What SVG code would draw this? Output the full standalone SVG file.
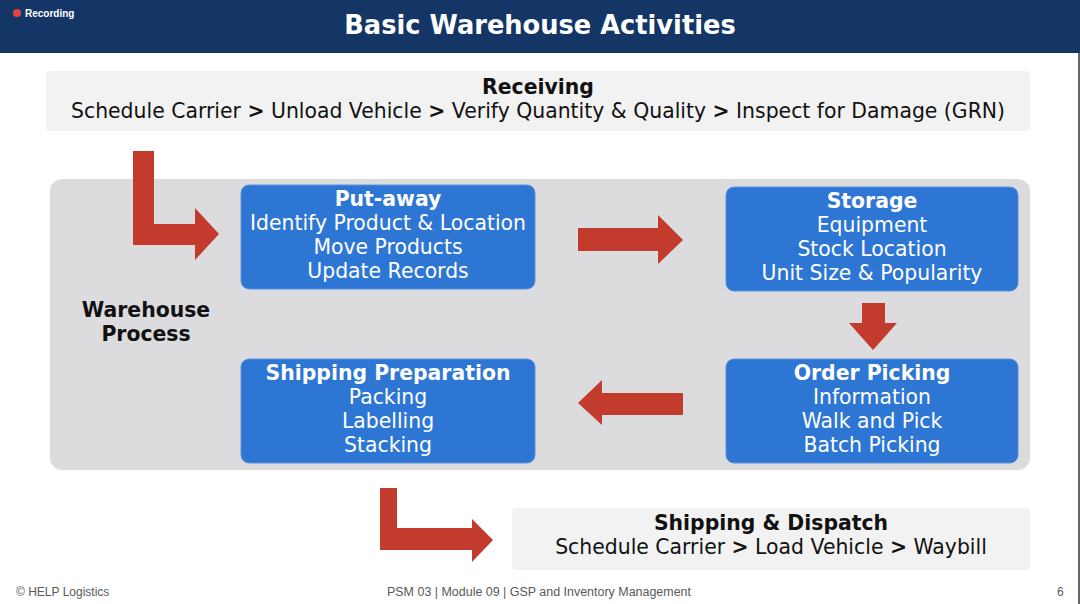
<svg xmlns="http://www.w3.org/2000/svg" width="1080" height="604" viewBox="0 0 1080 604">
<style>
.t{font-family:"DejaVu Sans","Verdana",sans-serif;font-size:20.4px;text-anchor:middle}
.b{font-weight:bold}
.w{fill:#ffffff}
.k{fill:#111111}
.node{fill:#2e76d4;stroke:#5b93dd;stroke-width:1}
.arr{fill:#c33b2d}
.foot{font-family:"Liberation Sans",Arial,sans-serif;font-size:12px;fill:#595959}
</style>
<rect x="0" y="0" width="1080" height="604" fill="#ffffff"/>
<rect x="0" y="0" width="1080" height="53" fill="#143666"/>
<circle cx="17" cy="13" r="4" fill="#e0453a"/>
<text x="25" y="16.5" font-family="Liberation Sans,Arial,sans-serif" font-size="10" font-weight="bold" fill="#ffffff">Recording</text>
<text x="540" y="34" class="t b w" style="font-size:25.7px">Basic Warehouse Activities</text>
<line x1="1079" y1="53" x2="1079" y2="604" stroke="#333333" stroke-width="1.5"/>

<g id="receiving">
<rect x="46" y="71" width="984" height="60" rx="4" fill="#f2f2f2"/>
<text x="538" y="94" class="t b k">Receiving</text>
<text x="538" y="118" class="t k">Schedule Carrier <tspan font-weight="bold">&gt;</tspan> Unload Vehicle <tspan font-weight="bold">&gt;</tspan> Verify Quantity &amp; Quality <tspan font-weight="bold">&gt;</tspan> Inspect for Damage (GRN)</text>
</g>

<g id="warehouse-process">
<rect x="50" y="179" width="980" height="291" rx="12" fill="#dcdbdd"/>
<text x="146" y="317" class="t b k">Warehouse</text>
<text x="146" y="341" class="t b k">Process</text>
</g>

<g id="put-away">
<rect x="241" y="185" width="294" height="104" rx="8" class="node"/>
<text x="388" y="206" class="t b w">Put-away</text>
<text x="388" y="230" class="t w">Identify Product &amp; Location</text>
<text x="388" y="254" class="t w">Move Products</text>
<text x="388" y="278" class="t w">Update Records</text>
</g>

<g id="storage">
<rect x="726" y="187" width="292" height="104" rx="8" class="node"/>
<text x="872" y="208" class="t b w">Storage</text>
<text x="872" y="232" class="t w">Equipment</text>
<text x="872" y="256" class="t w">Stock Location</text>
<text x="872" y="280" class="t w">Unit Size &amp; Popularity</text>
</g>

<g id="order-picking">
<rect x="726" y="359" width="292" height="104" rx="8" class="node"/>
<text x="872" y="380" class="t b w">Order Picking</text>
<text x="872" y="404" class="t w">Information</text>
<text x="872" y="428" class="t w">Walk and Pick</text>
<text x="872" y="452" class="t w">Batch Picking</text>
</g>

<g id="shipping-preparation">
<rect x="241" y="359" width="294" height="104" rx="8" class="node"/>
<text x="388" y="380" class="t b w">Shipping Preparation</text>
<text x="388" y="404" class="t w">Packing</text>
<text x="388" y="428" class="t w">Labelling</text>
<text x="388" y="452" class="t w">Stacking</text>
</g>

<g id="shipping-dispatch">
<rect x="512" y="508" width="518" height="62" rx="4" fill="#f2f2f2"/>
<text x="771" y="530" class="t b k">Shipping &amp; Dispatch</text>
<text x="771" y="554" class="t k">Schedule Carrier <tspan font-weight="bold">&gt;</tspan> Load Vehicle <tspan font-weight="bold">&gt;</tspan> Waybill</text>
</g>

<g id="connectors">
<polygon class="arr" points="133,151 154,151 154,224 195,224 195,208 219,234 195,260 195,245 133,245"/>
<polygon class="arr" points="578,228 658,228 658,215 683,240 658,264 658,251 578,251"/>
<polygon class="arr" points="862,303 885,303 885,323 897,323 873,350 849,323 862,323"/>
<polygon class="arr" points="683,393 683,415 602,415 602,425 578,403 602,380 602,393"/>
<polygon class="arr" points="380,488 397,488 397,528 472,528 472,519 493,540 472,562 472,550 380,550"/>
</g>

<text x="16" y="596" class="foot">© HELP Logistics</text>
<text x="539" y="596" class="foot" text-anchor="middle" textLength="304" lengthAdjust="spacingAndGlyphs">PSM 03 | Module 09 | GSP and Inventory Management</text>
<text x="1057" y="596" class="foot">6</text>
</svg>
